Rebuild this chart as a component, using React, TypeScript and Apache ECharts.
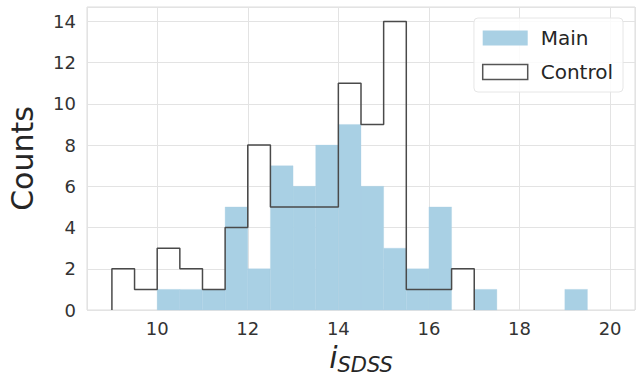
import React, { useEffect, useRef } from "react";
import * as echarts from "echarts";

const binStart = 9;
const binWidth = 0.5;
const mainCounts = [0, 0, 1, 1, 1, 5, 2, 7, 6, 8, 9, 6, 3, 2, 5, 0, 1, 0, 0, 0, 1, 0];
const controlCounts = [2, 1, 3, 2, 1, 4, 8, 5, 5, 5, 11, 9, 14, 1, 1, 2, 0, 0, 0, 0, 0, 0];
const xTicks = [10, 12, 14, 16, 18, 20];
const yTicks = [0, 2, 4, 6, 8, 10, 12, 14];

const mainColor = "#a9d0e4";
const font = "DejaVu Sans";

export default function App() {
  const ref = useRef<HTMLDivElement>(null);
  useEffect(() => {
    const chart = echarts.init(ref.current!, null, { renderer: "svg" });
    const mainData = mainCounts.map((v, i) => [binStart + i * binWidth, binStart + (i + 1) * binWidth, v]);
    let lastIdx = controlCounts.length - 1;
    while (lastIdx > 0 && controlCounts[lastIdx] === 0) lastIdx--;
    const ctrl: number[][] = [[binStart, 0]];
    for (let i = 0; i <= lastIdx; i++) {
      ctrl.push([binStart + i * binWidth, controlCounts[i]]);
      ctrl.push([binStart + (i + 1) * binWidth, controlCounts[i]]);
    }
    ctrl.push([binStart + (lastIdx + 1) * binWidth, 0]);

    chart.setOption({
      animation: false,
      grid: {
        left: 87,
        right: 6,
        top: 7,
        bottom: 70,
        show: true,
        borderColor: "#dcdcdc",
        borderWidth: 1,
        backgroundColor: "transparent",
        outerBoundsMode: "none",
        containLabel: false,
      },
      legend: {
        right: 18,
        top: 18,
        orient: "vertical",
        itemWidth: 45,
        itemHeight: 15,
        itemGap: 14,
        padding: [10, 10, 10, 8],
        backgroundColor: "rgba(255,255,255,0.85)",
        borderColor: "#e6e6e6",
        borderWidth: 1,
        borderRadius: 4,
        textStyle: { fontFamily: font, fontSize: 20, color: "#262626", padding: [0, 0, 0, 8] },
        data: [
          { name: "Main", icon: "rect", itemStyle: { color: mainColor, borderWidth: 0 } },
          {
            name: "Control",
            icon: "rect",
            itemStyle: { color: "#ffffff", borderColor: "#555555", borderWidth: 1.5 },
          },
        ],
      },
      xAxis: {
        type: "value",
        min: 8.45,
        max: 20.55,
        splitNumber: 6,
        axisLine: { show: false },
        axisTick: { show: false },
        splitLine: { show: true, lineStyle: { color: "#e3e3e3", width: 1 } },
        axisLabel: {
          showMinLabel: false,
          showMaxLabel: false,
          fontFamily: font,
          fontSize: 18,
          color: "#333333",
          margin: 9,
          formatter: (v: number) => (xTicks.includes(v) ? String(v) : ""),
        },
        name: "{i|i}{s|SDSS}",
        nameLocation: "middle",
        nameGap: 35,
        nameTextStyle: {
          rich: {
            i: {
              fontFamily: font,
              fontStyle: "italic",
              fontSize: 30,
              lineHeight: 30,
              color: "#262626",
              padding: [0, 0, 5, 0],
            },
            s: {
              fontFamily: font,
              fontStyle: "italic",
              fontSize: 21,
              lineHeight: 21,
              color: "#262626",
              verticalAlign: "bottom",
            },
          },
        },
      },
      yAxis: {
        type: "value",
        min: 0,
        max: 14.7,
        splitNumber: 7,
        axisLine: { show: false },
        axisTick: { show: false },
        splitLine: { show: true, lineStyle: { color: "#e3e3e3", width: 1 } },
        axisLabel: {
          showMaxLabel: false,
          fontFamily: font,
          fontSize: 18,
          color: "#333333",
          margin: 11,
          formatter: (v: number) => (yTicks.includes(v) ? String(v) : ""),
        },
        name: "Counts",
        nameLocation: "middle",
        nameGap: 50,
        nameTextStyle: { fontFamily: font, fontSize: 30, color: "#262626" },
      },
      series: [
        {
          name: "Main",
          type: "custom",
          data: mainData,
          itemStyle: { color: mainColor },
          renderItem: (params: any, api: any) => {
            const x0 = api.value(0);
            const x1 = api.value(1);
            const v = api.value(2);
            if (!v) return null;
            const p0 = api.coord([x0, 0]);
            const p1 = api.coord([x1, v]);
            return {
              type: "rect",
              shape: { x: p0[0], y: p1[1], width: p1[0] - p0[0], height: p0[1] - p1[1] },
              style: { fill: mainColor, stroke: mainColor, lineWidth: 0.3 },
            };
          },
          encode: { x: [0, 1], y: 2 },
          z: 2,
        },
        {
          name: "Control",
          type: "line",
          data: ctrl,
          symbol: "none",
          lineStyle: { color: "#4a4a4a", width: 1.5 },
          itemStyle: { color: "#ffffff", borderColor: "#555555" },
          z: 3,
        },
      ],
    });
    return () => chart.dispose();
  }, []);
  return <div ref={ref} style={{ width: 641, height: 380, position: "absolute", left: 0, top: 0 }} />;
}
